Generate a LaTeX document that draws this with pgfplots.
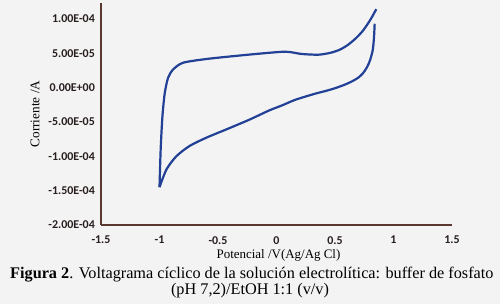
\documentclass[border=0pt]{standalone}
\usepackage{pgfplots}
\pgfplotsset{compat=1.18}
\usepackage{fontspec}
\setmainfont{Liberation Serif}
\newfontfamily\carlito{Carlito}
\definecolor{bg}{RGB}{243,243,243}
\definecolor{curve}{RGB}{33,64,150}
\definecolor{axbrown}{RGB}{90,55,48}
\definecolor{ticktext}{RGB}{40,30,30}
\begin{document}
\begin{tikzpicture}
\fill[bg] (0bp,0bp) rectangle (500bp,304bp);
\begin{axis}[
  at={(101bp,79bp)}, anchor=south west,
  scale only axis, width=351bp, height=222bp,
  xmin=-1.5, xmax=1.5, ymin=-2e-4, ymax=1.23e-4,
  axis x line*=bottom, axis y line*=left,
  axis line style={-, draw=axbrown, line width=1.2pt},
  major tick length=0pt,
  xtick={-1.5,-1,-0.5,0,0.5,1,1.5},
  xticklabels={-1.5,-1,-0.5,0,0.5,1,1.5},
  ytick={-2e-4,-1.5e-4,-1e-4,-5e-5,0,5e-5,1e-4},
  yticklabels={-2.00E-04,-1.50E-04,-1.00E-04,-5.00E-05,0.00E+00,5.00E-05,1.00E-04},
  scaled y ticks=false, scaled x ticks=false,
  xticklabel style={font=\carlito\bfseries\fontsize{12}{14}\selectfont, text=ticktext, anchor=north, inner sep=0pt, yshift=-11bp},
  yticklabel style={font=\carlito\bfseries\fontsize{12}{14}\selectfont, text=ticktext, anchor=east, inner sep=0pt, xshift=-6bp},
  xlabel={Potencial /V(Ag/Ag Cl)},
  ylabel={Corriente /A},
  xlabel style={font=\fontsize{13}{15}\selectfont, at={(rel axis cs:0.5,0)}, anchor=center, yshift=-30bp, xshift=2bp},
  ylabel style={font=\fontsize{13.3}{15}\selectfont, at={(rel axis cs:0,0.5)}, anchor=center, yshift=66bp},
  clip=false,
]
\addplot[curve, line width=2.2bp, smooth, tension=0.45] coordinates {
(0.839,9.28e-5)
(0.833,7.2e-5)
(0.822,5.4e-5)
(0.80,4.0e-5)
(0.775,3.0e-5)
(0.74,2.1e-5)
(0.70,1.45e-5)
(0.64,8.5e-6)
(0.585,4.3e-6)
(0.50,-1.0e-6)
(0.42,-5.0e-6)
(0.34,-8.5e-6)
(0.25,-1.3e-5)
(0.15,-1.85e-5)
(0.047,-2.6e-5)
(-0.065,-3.35e-5)
(-0.235,-4.7e-5)
(-0.43,-6.1e-5)
(-0.60,-7.3e-5)
(-0.743,-8.5e-5)
(-0.856,-1.0e-4)
(-0.94,-1.19e-4)
(-1.0,-1.45e-4)
};
\addplot[curve, line width=2.2bp, smooth, tension=0.45] coordinates {
(-1.0,-1.45e-4)
(-0.99,-9.0e-5)
(-0.975,-4.2e-5)
(-0.955,-8e-6)
(-0.927,1.4e-5)
(-0.885,2.6e-5)
(-0.80,3.6e-5)
(-0.60,4.15e-5)
(-0.32,4.65e-5)
(-0.10,5.0e-5)
(0.05,5.2e-5)
(0.12,5.15e-5)
(0.217,4.88e-5)
(0.358,4.78e-5)
(0.46,5.05e-5)
(0.54,5.5e-5)
(0.61,6.2e-5)
(0.68,7.2e-5)
(0.74,8.3e-5)
(0.80,9.8e-5)
(0.853,1.14e-4)
};
\end{axis}
\node[anchor=base west, inner sep=0pt] at (10bp,26bp) {\fontsize{16.3}{18}\selectfont\textbf{Figura 2}. Voltagrama cíclico de la solución electrolítica: buffer de fosfato};
\node[anchor=base, inner sep=0pt] at (250bp,10bp) {\fontsize{16.3}{18}\selectfont (pH 7,2)/EtOH 1:1 (v/v)};
\end{tikzpicture}
\end{document}
